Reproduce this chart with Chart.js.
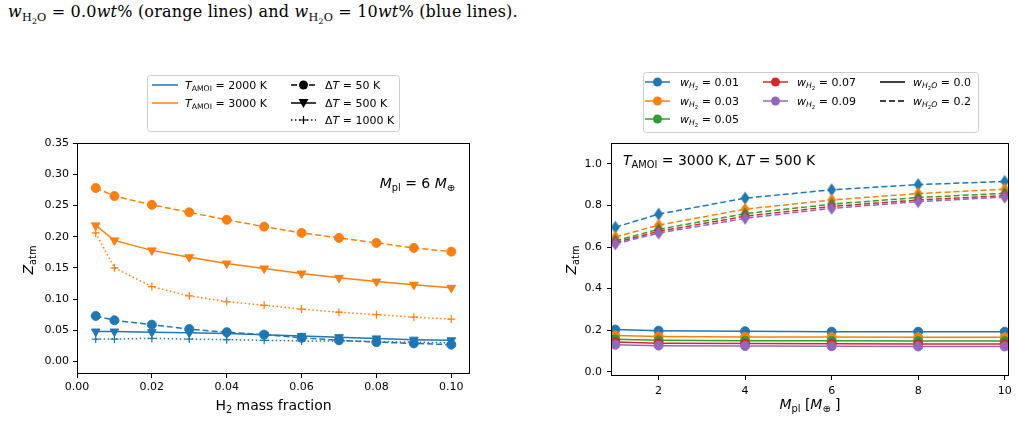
<!DOCTYPE html>
<html>
<head>
<meta charset="utf-8">
<script src="https://cdn.jsdelivr.net/npm/chart.js@4.4.1/dist/chart.umd.min.js"></script>
<style>
  body { margin: 0; background: #fff; width: 1018px; height: 423px; overflow: hidden; position: relative; }
  #caption { position: absolute; left: 8px; top: 3px; font-family: "DejaVu Serif", "Liberation Serif", serif; font-size: 16px; letter-spacing: 0.2px; line-height: 17px; white-space: nowrap; color: #000; }
  #caption sub { font-size: 70%; }
  canvas { position: absolute; top: 0; }
  #left { left: 0; }
  #right { left: 540px; }
</style>
</head>
<body>
<div id="caption"><i>w</i><sub>H<sub>2</sub>O</sub> = 0.0<i>wt</i>% (orange lines) and <i>w</i><sub>H<sub>2</sub>O</sub> = 10<i>wt</i>% (blue lines).</div>
<canvas id="left" width="490" height="423"></canvas>
<canvas id="right" width="478" height="423"></canvas>
<script>
// left panel: Z_atm vs H2 mass fraction, M_pl = 6
const H2_FRAC = [0.005, 0.01, 0.02, 0.03, 0.04, 0.05, 0.06, 0.07, 0.08, 0.09, 0.10];
const Z_2000_DT50 = [0.073, 0.066, 0.059, 0.052, 0.047, 0.043, 0.038, 0.034, 0.031, 0.029, 0.027];
const Z_2000_DT500 = [0.048, 0.048, 0.047, 0.046, 0.045, 0.043, 0.041, 0.039, 0.037, 0.035, 0.034];
const Z_2000_DT1000 = [0.036, 0.036, 0.037, 0.036, 0.035, 0.034, 0.033, 0.033, 0.032, 0.031, 0.030];
const Z_3000_DT50 = [0.278, 0.265, 0.251, 0.239, 0.227, 0.216, 0.206, 0.198, 0.190, 0.182, 0.176];
const Z_3000_DT500 = [0.218, 0.194, 0.178, 0.167, 0.157, 0.149, 0.141, 0.134, 0.128, 0.123, 0.118];
const Z_3000_DT1000 = [0.206, 0.150, 0.120, 0.105, 0.096, 0.090, 0.084, 0.079, 0.075, 0.071, 0.068];
const LEFT_X_TICKS = [0, 0.02, 0.04, 0.06, 0.08, 0.10];
const LEFT_Y_TICKS = [0, 0.05, 0.10, 0.15, 0.20, 0.25, 0.30, 0.35];

// right panel: Z_atm vs planet mass, T_AMOI = 3000 K, dT = 500 K
const M_PL = [1, 2, 4, 6, 8, 10];
const W_H2 = ['0.01', '0.03', '0.05', '0.07', '0.09'];
const Z_DRY_001 = [0.203, 0.198, 0.195, 0.193, 0.193, 0.193];
const Z_DRY_003 = [0.175, 0.170, 0.168, 0.167, 0.166, 0.166];
const Z_DRY_005 = [0.157, 0.152, 0.150, 0.149, 0.148, 0.148];
const Z_DRY_007 = [0.143, 0.138, 0.136, 0.135, 0.134, 0.134];
const Z_DRY_009 = [0.130, 0.126, 0.124, 0.123, 0.122, 0.122];
const Z_WET_001 = [0.695, 0.758, 0.835, 0.875, 0.900, 0.915];
const Z_WET_003 = [0.648, 0.705, 0.782, 0.826, 0.857, 0.878];
const Z_WET_005 = [0.630, 0.685, 0.760, 0.806, 0.838, 0.858];
const Z_WET_007 = [0.622, 0.675, 0.748, 0.795, 0.826, 0.847];
const Z_WET_009 = [0.615, 0.667, 0.738, 0.786, 0.818, 0.840];
const RIGHT_X_TICKS = [2, 4, 6, 8, 10];
const RIGHT_Y_TICKS = [0, 0.2, 0.4, 0.6, 0.8, 1.0];

const BLUE = '#1f77b4', ORANGE = '#ff7f0e', GREEN = '#2ca02c', RED = '#d62728', PURPLE = '#9467bd';
const DASH = [6, 3], DOT = [1.5, 2.5];
const FONT = '"DejaVu Sans", sans-serif';

Chart.defaults.font.family = FONT;
Chart.defaults.color = '#000';

// mathtext-ish text pieces
const R = (t, lv = 0) => ({ t, lv });
const I = (t, lv = 0) => ({ t, lv, it: true });

function segFont(s, size) {
  const f = size * Math.pow(0.7, s.lv);
  return (s.it ? 'italic ' : '') + f.toFixed(1) + 'px ' + FONT;
}
function richWidth(ctx, segs, size) {
  let w = 0;
  for (const s of segs) { ctx.font = segFont(s, size); w += ctx.measureText(s.t).width; }
  return w;
}
function drawRich(ctx, segs, x, y, size, align) {
  ctx.save();
  ctx.fillStyle = '#000';
  ctx.textAlign = 'left';
  ctx.textBaseline = 'alphabetic';
  const w = richWidth(ctx, segs, size);
  let cx = align === 'right' ? x - w : align === 'center' ? x - w / 2 : x;
  for (const s of segs) {
    ctx.font = segFont(s, size);
    const dy = s.lv === 0 ? 0 : s.lv === 1 ? size * 0.2 : size * 0.34;
    ctx.fillText(s.t, cx, y + dy);
    cx += ctx.measureText(s.t).width;
  }
  ctx.restore();
}

function drawMarker(ctx, kind, x, y, color) {
  ctx.save();
  ctx.fillStyle = color;
  ctx.strokeStyle = color;
  ctx.lineWidth = 1.2;
  ctx.setLineDash([]);
  ctx.beginPath();
  if (kind === 'circle') {
    ctx.arc(x, y, 4.5, 0, Math.PI * 2);
    ctx.fill();
  } else if (kind === 'tri') {
    ctx.moveTo(x - 5, y - 4); ctx.lineTo(x + 5, y - 4); ctx.lineTo(x, y + 5); ctx.closePath();
    ctx.fill();
  } else if (kind === 'plus') {
    ctx.moveTo(x - 4, y); ctx.lineTo(x + 4, y); ctx.moveTo(x, y - 4); ctx.lineTo(x, y + 4);
    ctx.stroke();
  }
  ctx.restore();
}

function diamond(color) {
  const c = document.createElement('canvas');
  c.width = 10; c.height = 14;
  const g = c.getContext('2d');
  g.fillStyle = color;
  g.beginPath();
  g.moveTo(5, 0.5); g.lineTo(9.5, 7); g.lineTo(5, 13.5); g.lineTo(0.5, 7); g.closePath();
  g.fill();
  return c;
}

function series(xs, ys, color, dash, marker) {
  const ds = {
    data: xs.map((x, i) => ({ x, y: ys[i] })),
    borderColor: color,
    backgroundColor: color,
    borderWidth: 1.5,
    borderDash: dash,
    pointBackgroundColor: color,
    pointBorderColor: color,
    pointBorderWidth: 1,
    pointRadius: 4.5,
    pointStyle: 'circle',
    tension: 0,
    fill: false,
  };
  if (marker === 'tri') { ds.pointStyle = 'triangle'; ds.pointRotation = 180; ds.pointRadius = 5; }
  if (marker === 'plus') { ds.pointStyle = 'cross'; ds.pointRadius = 4; ds.pointBorderWidth = 1.2; }
  if (marker === 'diamond') { ds.pointStyle = diamond(color); }
  return ds;
}

function axis(min, max, ticks, fmt, pad, fit) {
  return {
    type: 'linear', min, max,
    afterBuildTicks: (s) => { s.ticks = ticks.map((v) => ({ value: v })); },
    afterFit: fit,
    ticks: { callback: fmt, padding: pad, font: { size: 11 }, autoSkip: false, maxRotation: 0, color: '#000' },
    grid: { drawOnChartArea: false, drawTicks: true, tickLength: 4, color: '#000', lineWidth: 1 },
    border: { display: false },
  };
}

function decoPlugin(draw) {
  return {
    id: 'deco',
    afterDraw(chart) {
      const ctx = chart.ctx, a = chart.chartArea;
      ctx.save();
      ctx.strokeStyle = '#000';
      ctx.lineWidth = 1;
      ctx.strokeRect(Math.round(a.left) + 0.5, Math.round(a.top) + 0.5,
        Math.round(a.right - a.left) - 1, Math.round(a.bottom - a.top) - 1);
      ctx.restore();
      draw(ctx, a);
    },
  };
}

function drawLegend(ctx, box, entries) {
  ctx.save();
  ctx.fillStyle = 'rgba(255,255,255,0.8)';
  ctx.strokeStyle = '#cccccc';
  ctx.lineWidth = 1;
  ctx.beginPath();
  ctx.roundRect(box.x + 0.5, box.y + 0.5, box.w, box.h, 3);
  ctx.fill();
  ctx.stroke();
  for (const e of entries) {
    ctx.strokeStyle = e.color;
    ctx.lineWidth = 1.5;
    ctx.setLineDash(e.dash);
    ctx.beginPath();
    ctx.moveTo(e.x0, e.y); ctx.lineTo(e.x1, e.y);
    ctx.stroke();
    if (e.marker) drawMarker(ctx, e.marker, (e.x0 + e.x1) / 2, e.y, e.color);
    drawRich(ctx, e.segs, e.tx, e.y + 4, 11, 'left');
  }
  ctx.restore();
}

function order(list) {
  list.forEach((d, i) => { d.order = list.length - i; });
  return list;
}

// ---- left chart ----
const leftSets = order([
  series(H2_FRAC, Z_2000_DT50, BLUE, DASH, 'circle'),
  series(H2_FRAC, Z_2000_DT500, BLUE, [], 'tri'),
  series(H2_FRAC, Z_2000_DT1000, BLUE, DOT, 'plus'),
  series(H2_FRAC, Z_3000_DT50, ORANGE, DASH, 'circle'),
  series(H2_FRAC, Z_3000_DT500, ORANGE, [], 'tri'),
  series(H2_FRAC, Z_3000_DT1000, ORANGE, DOT, 'plus'),
]);

const TAMOI = (v) => [I('T'), R('AMOI', 1), R(' = ' + v + ' K')];
const DT = (v) => [R('Δ'), I('T'), R(' = ' + v + ' K')];

new Chart(document.getElementById('left'), {
  type: 'line',
  data: { datasets: leftSets },
  options: {
    responsive: false,
    animation: false,
    layout: { padding: { top: 143, left: 0, right: 20, bottom: 0 } },
    plugins: { legend: { display: false }, tooltip: { enabled: false } },
    scales: {
      x: axis(0, 0.105, LEFT_X_TICKS, (v) => v.toFixed(2), 3, (s) => { s.height = 49; }),
      y: axis(-0.02, 0.35, LEFT_Y_TICKS, (v) => v.toFixed(2), 4, (s) => { s.width = 77; }),
    },
  },
  plugins: [decoPlugin((ctx, a) => {
    drawLegend(ctx, { x: 147, y: 75, w: 252, h: 56 }, [
      { x0: 152, x1: 178, y: 85, color: BLUE, dash: [], tx: 185, segs: TAMOI(2000) },
      { x0: 152, x1: 178, y: 103, color: ORANGE, dash: [], tx: 185, segs: TAMOI(3000) },
      { x0: 291, x1: 316, y: 85, color: '#000', dash: DASH, marker: 'circle', tx: 325, segs: DT(50) },
      { x0: 291, x1: 316, y: 103, color: '#000', dash: [], marker: 'tri', tx: 325, segs: DT(500) },
      { x0: 291, x1: 316, y: 120, color: '#000', dash: DOT, marker: 'plus', tx: 325, segs: DT(1000) },
    ]);
    drawRich(ctx, [I('M'), R('pl', 1), R(' = 6 '), I('M'), R('⊕', 1)], 455, 188, 14, 'right');
    drawRich(ctx, [R('H'), R('2', 1), R(' mass fraction')], (a.left + a.right) / 2, 410, 14, 'center');
    ctx.save();
    ctx.translate(33, 260);
    ctx.rotate(-Math.PI / 2);
    drawRich(ctx, [I('Z'), R('atm', 1)], 0, 0, 14, 'center');
    ctx.restore();
  })],
});

// ---- right chart ----
const DRY = [Z_DRY_001, Z_DRY_003, Z_DRY_005, Z_DRY_007, Z_DRY_009];
const WET = [Z_WET_001, Z_WET_003, Z_WET_005, Z_WET_007, Z_WET_009];
const COLORS = [BLUE, ORANGE, GREEN, RED, PURPLE];
const rightList = [];
COLORS.forEach((c, i) => {
  rightList.push(series(M_PL, DRY[i], c, [], 'circle'));
  rightList.push(series(M_PL, WET[i], c, DASH, 'diamond'));
});
const rightSets = order(rightList);

const WH2 = (v) => [I('w'), I('H', 1), R('2', 2), R(' = ' + v)];
const WH2O = (v) => [I('w'), I('H', 1), R('2', 2), I('O', 1), R(' = ' + v)];
const rows = [82, 101, 119];

new Chart(document.getElementById('right'), {
  type: 'line',
  data: { datasets: rightSets },
  options: {
    responsive: false,
    animation: false,
    layout: { padding: { top: 143, left: 0, right: 9, bottom: 0 } },
    plugins: { legend: { display: false }, tooltip: { enabled: false } },
    scales: {
      x: axis(0.9, 10.1, RIGHT_X_TICKS, (v) => String(v), 5, (s) => { s.height = 47; }),
      y: axis(-0.02, 1.1, RIGHT_Y_TICKS, (v) => v.toFixed(1), 5, (s) => { s.width = 71; }),
    },
  },
  plugins: [decoPlugin((ctx, a) => {
    const entries = W_H2.map((w, i) => {
      const col = i < 3 ? 0 : 1;
      const row = i < 3 ? i : i - 3;
      const x0 = col === 0 ? 105 : 223;
      return { x0, x1: x0 + 25, y: rows[row], color: COLORS[i], dash: [], marker: 'circle', tx: col === 0 ? 140 : 257, segs: WH2(w) };
    });
    entries.push({ x0: 340, x1: 365, y: rows[0], color: '#000', dash: [], tx: 373, segs: WH2O('0.0') });
    entries.push({ x0: 340, x1: 365, y: rows[1], color: '#000', dash: DASH, tx: 373, segs: WH2O('0.2') });
    drawLegend(ctx, { x: 103, y: 72, w: 335, h: 60 }, entries);
    drawRich(ctx, [I('T'), R('AMOI', 1), R(' = 3000 K, Δ'), I('T'), R(' = 500 K')], 83, 165, 14, 'left');
    drawRich(ctx, [I('M'), R('pl', 1), R(' ['), I('M'), R('⊕', 1), R(' ]')], (a.left + a.right) / 2, 409, 14, 'center');
    ctx.save();
    ctx.translate(36, 260);
    ctx.rotate(-Math.PI / 2);
    drawRich(ctx, [I('Z'), R('atm', 1)], 0, 0, 14, 'center');
    ctx.restore();
  })],
});
</script>
</body>
</html>
